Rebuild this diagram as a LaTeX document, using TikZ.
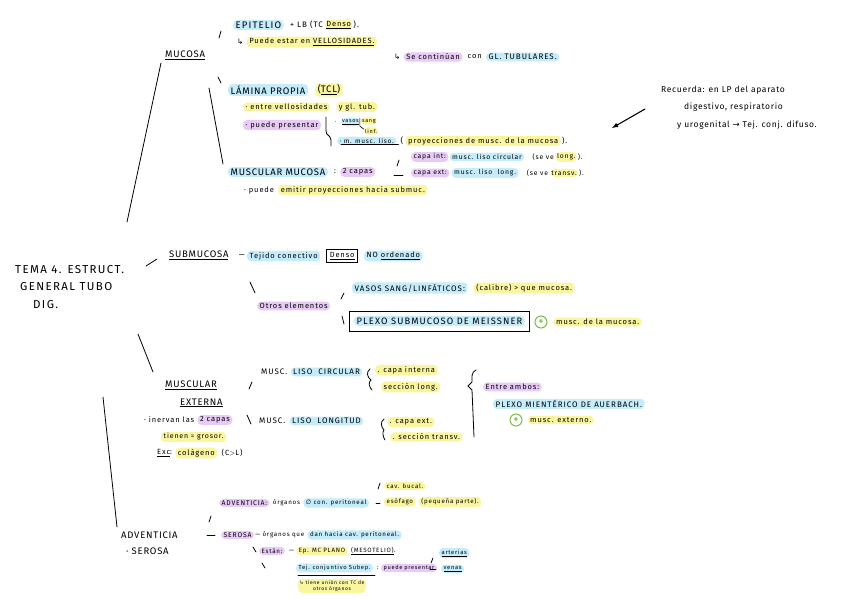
\documentclass[tikz,border=0pt]{standalone}
\usepackage{fontspec}
\setmainfont{Fira Sans}
\newfontfamily\handf[LetterSpace=12]{Fira Sans}
\newfontfamily\capsf[LetterSpace=8]{Fira Sans}
\newfontfamily\symf{DejaVu Sans}
\usetikzlibrary{calc}
\usetikzlibrary{arrows}

\definecolor{hlblue}{RGB}{196,236,250}
\definecolor{hlyellow}{RGB}{250,246,160}
\definecolor{hlpurple}{RGB}{232,202,246}
\definecolor{plusgreen}{RGB}{120,190,70}

\newcommand{\arr}{{\symf ↳}}

\tikzset{
  hw/.style={anchor=west,inner sep=1pt,font=\handf\fontsize{7.5}{8}\selectfont},
  hwsmall/.style={anchor=west,inner sep=1pt,font=\handf\fontsize{6.2}{7}\selectfont},
  hwcapa/.style={anchor=west,inner sep=1pt,font=\handf\fontsize{6.8}{7}\selectfont},
  hwtiny/.style={anchor=west,inner sep=1pt,font=\handf\fontsize{5.5}{6}\selectfont},
  hwmid/.style={anchor=west,inner sep=1pt,font=\handf\fontsize{8}{9}\selectfont},
  hwbig/.style={anchor=west,inner sep=1pt,font=\capsf\fontsize{9.5}{10}\selectfont},
  hlb/.style={fill=hlblue,rounded corners=4pt,inner xsep=2.5pt,inner ysep=1.5pt},
  hly/.style={fill=hlyellow,rounded corners=4pt,inner xsep=2.5pt,inner ysep=1.5pt},
  hlp/.style={fill=hlpurple,rounded corners=4pt,inner xsep=2.5pt,inner ysep=1.5pt},
  stroke/.style={line width=0.8pt,line cap=round},
  plus/.style={circle,draw=plusgreen,line width=1pt,inner sep=0pt,minimum size=12pt,
    text=plusgreen,font=\bfseries\fontsize{9}{9}\selectfont},
}

\begin{document}
\begin{tikzpicture}[x=1pt,y=-1pt]
  \fill[white] (0,0) rectangle (848,599);
  \useasboundingbox (0,0) rectangle (848,599);

  % titulo
  \node[hw,font=\handf\fontsize{11.5}{12}\selectfont] (tema1) at (14,270) {TEMA 4. ESTRUCT.};
  \node[hw,font=\handf\fontsize{11.5}{12}\selectfont] (tema2) at (19,287) {GENERAL TUBO};
  \node[hw,font=\handf\fontsize{11.5}{12}\selectfont] (tema3) at (32,305) {DIG.};

  % mucosa
  \draw[stroke] (161,63) -- (127,222);
  \node[hwbig] (mucosa) at (164,55) {\underline{MUCOSA}};
  \draw[stroke] (219,38) -- (221,31);
  \node[hwbig,hlb,font=\handf\fontsize{9.5}{10}\selectfont] (epitelio) at (233,25) {EPITELIO};
  \node[hwmid] (lb) at ($(epitelio.east)+(5,0)$) {+ LB (TC};
  \node[hw,hly,inner xsep=1pt] (densoa) at ($(lb.east)+(1,0)$) {\underline{Denso}};
  \node[hwmid] (densob) at (densoa.east) {).};
  \node[hw] (ar1) at (236,42) {\arr};
  \node[hw,hly] (vellos) at ($(ar1.east)+(2,0)$) {Puede estar en \underline{VELLOSIDADES.}};
  \node[hw] (ar2) at (393,57) {\arr};
  \node[hw,hlp] (contin) at ($(ar2.east)+(2,0)$) {Se continúan};
  \node[hw] (con) at ($(contin.east)+(4,0)$) {con};
  \node[hwmid,hlb] (gltub) at ($(con.east)+(3,0)$) {GL. TUBULARES.};

  \draw[stroke] (218,77) -- (221,83);
  \draw[stroke] (209,88) -- (223,164);
  \node[hwbig,hlb] (lamina) at (228,90) {LÁMINA PROPIA};
  \node[hwbig,hly] (tcl) at ($(lamina.east)+(7,0)$) {(\underline{TCL})};
  \node[hw,hly] (entre) at (243,107) {· entre vellosidades};
  \node[hw,hly] (gltub2) at ($(entre.east)+(6,0)$) {y gl. tub.};
  \node[hw,hlp] (puede) at (243,125) {· puede presentar};
  \draw[stroke] (326,117) -- (326,131) .. controls (326,136) and (330,134) .. (331,140) -- (331,146);
  \node[hwtiny] (dot1) at (334,122) {·};
  \node[hwtiny,hlb,inner xsep=1pt] (vasos) at (341,122) {\underline{vasos}};
  \draw[line width=0.6pt] (vasos.north east) -- (vasos.south east) -- ++(4,3);
  \node[hwtiny,hly,inner xsep=1pt] (sang) at ($(vasos.east)+(1,-1)$) {sang};
  \node[hwtiny,hly,inner xsep=1pt] (linf) at ($(vasos.east)+(4,9)$) {linf.};
  \node[hw,hlb,font=\handf\fontsize{6.5}{7}\selectfont] (mmusc) at (337,141) {· m. musc. liso.};
  \draw[stroke] ($(mmusc.south west)+(4,-1)$) -- ($(mmusc.south east)+(2,-1)$);
  \node[hwmid] (par1) at ($(mmusc.east)+(3,0)$) {(};
  \node[hw,hly] (proyec) at ($(par1.east)+(1,0)$) {proyecciones de musc. de la mucosa};
  \node[hw] (par2) at (proyec.east) {).};

  \node[hwcapa,hlp] (capaint) at (411,157) {capa int:};
  \node[hwcapa,hlb] (circ) at ($(capaint.east)+(1,0)$) {musc. liso circular};
  \node[hwcapa] (seve1) at ($(circ.east)+(7,0)$) {(se ve};
  \node[hwcapa,hly,inner xsep=1pt] (long1) at ($(seve1.east)+(1,0)$) {long.};
  \node[hwcapa] (cl1) at (long1.east) {).};

  \node[hwbig,hlb] (muscmuc) at (228,172) {MUSCULAR MUCOSA};
  \node[hw] (colon) at ($(muscmuc.east)+(5,0)$) {:};
  \node[hw,hlp] (dosc) at ($(colon.east)+(3,0)$) {2 capas};
  \draw[stroke] (397,166) -- (399,160);
  \draw[stroke] (394,175) -- (403,175);
  \node[hwcapa,hlp] (capaext) at (411,173) {capa ext:};
  \node[hwcapa,hlb] (longi) at ($(capaext.east)+(2,0)$) {musc. liso \ long.};
  \node[hwcapa] (seve2) at ($(longi.east)+(7,0)$) {(se ve};
  \node[hwcapa,hly,inner xsep=1pt] (transv) at ($(seve2.east)+(1,0)$) {transv.};
  \node[hwcapa] (cl2) at (transv.east) {).};
  \node[hw] (emitir) at (243,190) {· puede};
  \node[hw,hly] (proy2) at ($(emitir.east)+(3,0)$) {emitir proyecciones hacia submuc.};

  % recuerda
  \node[hw,font=\capsf\fontsize{8.5}{9}\selectfont] (rec1) at (660,90) {Recuerda: en LP del aparato};
  \node[hw,font=\capsf\fontsize{8.5}{9}\selectfont] (rec2) at (683,107) {digestivo, respiratorio};
  \node[hw,font=\capsf\fontsize{8.5}{9}\selectfont] (rec3) at (676,125) {y urogenital {\symf →} Tej. conj. difuso.};
  \coordinate (tip) at (612,128);
  \draw[stroke,line width=1.1pt,-latex] ($(rec2.west)+(-38,2)$) -- (tip);

  % submucosa
  \draw[stroke] (146,266) -- (157,259);
  \node[hwbig] (submuc) at (168,255) {\underline{SUBMUCOSA}};
  \node[hw] (dash1) at ($(submuc.east)+(8,1)$) {—};
  \node[hw,hlb] (tejido) at ($(dash1.east)+(1,0)$) {Tejido conectivo};
  \node[hw,draw,line width=0.8pt,inner sep=3pt] (denso) at ($(tejido.east)+(6,0)$) {\underline{Denso}};
  \node[hw,hlb] (noord) at ($(denso.east)+(6,0)$) {NO \underline{ordenado}};
  \draw[stroke] (250,282) -- (255,293);
  \node[hw,hlp] (otros) at (257,306) {Otros elementos};
  \draw[stroke] (341,299) -- (344,293);
  \node[hwmid,hlb] (vasos2) at (352,288) {VASOS SANG/LINFÁTICOS:};
  \node[hw,hly] (calibre) at ($(vasos2.east)+(6,0)$) {(calibre) > que mucosa.};
  \draw[stroke] (342,316) -- (344,324);
  \node[hwmid,hlb,font=\handf\fontsize{9.3}{10}\selectfont] (meiss) at (354,321) {PLEXO SUBMUCOSO DE MEISSNER};
  \draw[line width=0.8pt] ($(meiss.south west)+(-5,5)$) rectangle ($(meiss.north east)+(4,-5)$);
  \node[plus] (plus1) at (541,322) {+};
  \node[hw,hly] (muscmuc2) at ($(plus1.east)+(6,0)$) {musc. de la mucosa.};

  % muscular externa
  \draw[stroke] (138,334) -- (153,372);
  \node[hwbig] (muscext1) at (164,385) {\underline{MUSCULAR}};
  \node[hwbig] (muscext2) at (179,403) {\underline{EXTERNA}};
  \node[hw] (inervan) at (143,420) {· inervan las};
  \node[hw,hlp] (dosc2) at ($(inervan.east)+(2,0)$) {2 capas};
  \node[hw,hly,font=\handf\fontsize{7}{8}\selectfont] (tienen) at (161,437) {tienen = grosor.};
  \node[hw] (exc) at (156,453) {\underline{Exc}:};
  \node[hw,hly] (colag) at ($(exc.east)+(2,0)$) {colágeno};
  \node[hw] (cyl) at ($(colag.east)+(3,0)$) {(C$>$L)};

  \draw[stroke] (249,389) -- (252,382);
  \node[hwmid] (musc1) at (260,372) {MUSC.};
  \node[hwmid,hlb] (circular) at ($(musc1.east)+(2,0)$) {LISO \ CIRCULAR};
  \draw[stroke] (370,369) .. controls (366,372) and (367,377) .. (371,380) .. controls (368,382) and (369,387) .. (372,390);
  \node[hw,hly] (capaint2) at (375,370) {. capa interna};
  \node[hw,hly] (secl) at (381,387) {sección long.};

  \draw[stroke] (247,415) -- (251,424);
  \node[hwmid] (musc2) at (258,421) {MUSC.};
  \node[hwmid,hlb] (longit) at ($(musc2.east)+(3,0)$) {LISO \ LONGITUD};
  \draw[stroke] (384,419) .. controls (380,422) and (381,427) .. (384,430) .. controls (382,432) and (383,437) .. (385,440);
  \node[hw,hly] (capaext2) at (387,422) {. capa ext.};
  \node[hw,hly] (sect) at (390,437) {. sección transv.};

  \draw[stroke] (476,370) .. controls (471,372) and (472,378) .. (472,382) -- (468,386) -- (472,390) -- (474,437);
  \node[hw,hlp] (entre2) at (483,387) {Entre ambos:};
  \node[hwmid,hlb] (auer) at (493,404) {PLEXO MIENTÉRICO DE AUERBACH.};
  \node[plus] (plus2) at (516,420) {+};
  \node[hw,hly] (muscext3) at ($(plus2.east)+(5,0)$) {musc. externo.};

  % adventicia / serosa
  \draw[stroke] (103,397) -- (117,527);
  \node[hwbig] (advent) at (120,535) {ADVENTICIA};
  \node[hwbig] (serosa) at (125,551) {· SEROSA};
  \draw[stroke] (209,522) -- (211,516);
  \draw[stroke] (207,535) -- (215,535);
  \node[hwsmall,hlp,font=\handf\fontsize{6.8}{7}\selectfont] (advent2) at (219,503) {ADVENTICIA:};
  \node[hwsmall] (organos) at ($(advent2.east)+(2,0)$) {órganos};
  \node[hwsmall,hlb] (sinper) at ($(organos.east)+(2,0)$) {{\symf ∅} con. peritoneal};
  \draw[stroke] (378,489) -- (380,483);
  \draw[stroke] (376,503) -- (380,503);
  \node[hwsmall,hly] (bucal) at (384,486) {cav. bucal.};
  \node[hwsmall,hly] (esof) at (384,502) {esófago};
  \node[hwsmall,hly] (peq) at ($(esof.east)+(3,0)$) {(pequeña parte).};
  \node[hwsmall,hlp,font=\handf\fontsize{6.8}{7}\selectfont] (serosa2) at (221,535) {SEROSA};
  \node[hwsmall] (org2) at (serosa2.east) {— órganos que};
  \node[hwsmall,hlb] (hacia) at ($(org2.east)+(2,0)$) {dan hacia cav. peritoneal.};
  \draw[stroke] (253,547) -- (256,552);
  \node[hwsmall,hlp] (estan) at (259,551) {Están:};
  \node[hwsmall] (dash3) at ($(estan.east)+(3,0)$) {—};
  \node[hwsmall,hly] (ep) at ($(dash3.east)+(1,0)$) {Ep. MC PLANO};
  \node[hwsmall] (meso) at ($(ep.east)+(2,0)$) {\underline{(MESOTELIO)}.};
  \draw[stroke] (262,563) -- (265,568);
  \node[hwsmall,hlb,font=\handf\fontsize{5.8}{6}\selectfont] (tcsub) at (296,568) {Tej. conjuntivo Subep.};
  \draw[stroke] ($(tcsub.south west)+(2,3)$) -- ($(tcsub.south east)+(2,3)$);
  \node[hwsmall] (colon2) at ($(tcsub.east)+(3,0)$) {:};
  \node[hwsmall,hlp,font=\handf\fontsize{5.6}{6}\selectfont] (pp) at ($(colon2.east)+(1,0)$) {puede presentar};
  \draw[stroke] (431,563) -- (433,558);
  \draw[stroke] (430,569) -- (436,569);
  \node[hwsmall,hlb,font=\handf\fontsize{5.8}{6}\selectfont] (art) at (439,553) {\underline{arterias}};
  \node[hwsmall,hlb,font=\handf\fontsize{5.8}{6}\selectfont] (venas) at (441,569) {\underline{venas}};
  \node[hly,font=\handf\fontsize{5}{5.5}\selectfont,align=center,anchor=north,inner sep=1.5pt] (nota) at (332,579) {{\symf ↳} tiene unión con TC de\\otros órganos};
\end{tikzpicture}
\end{document}
